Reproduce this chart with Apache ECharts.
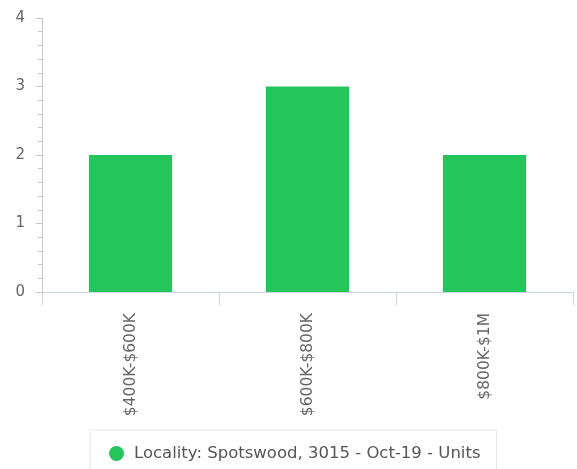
<!DOCTYPE html>
<html>
<head>
<meta charset="utf-8">
<script src="https://cdn.jsdelivr.net/npm/echarts@6/dist/echarts.min.js"></script>
<style>
html, body { margin: 0; padding: 0; background: #fff; }
#chart { width: 577px; height: 469px; }
</style>
</head>
<body>
<div id="chart"></div>
<script>
const categories = ['$400K-$600K', '$600K-$800K', '$800K-$1M']
const units = [2, 3, 2]
const seriesName = 'Locality: Spotswood, 3015 - Oct-19 - Units'

const myChart = echarts.init(document.getElementById('chart'))
const option = {
  animation: false,
  textStyle: { fontFamily: 'DejaVu Sans' },
  grid: { left: 42, right: 4, top: 18, bottom: 177 },
  legend: {
    data: [seriesName],
    top: 430,
    left: 90,
    icon: 'circle',
    itemWidth: 25,
    itemHeight: 15,
    itemGap: 10,
    padding: [15, 16, 13, 19],
    borderColor: '#e6e6e6',
    borderWidth: 1,
    textStyle: { fontSize: 16.5, color: '#555', fontFamily: 'DejaVu Sans' }
  },
  xAxis: {
    type: 'category',
    data: categories,
    axisLine: { lineStyle: { color: '#ccd6eb' } },
    axisTick: { show: true, length: 13, lineStyle: { color: '#ccd6eb' } },
    axisLabel: { rotate: 90, margin: 21, fontSize: 15.5, color: '#666' }
  },
  yAxis: {
    type: 'value',
    min: 0,
    max: 4,
    interval: 1,
    axisLine: { show: true, lineStyle: { color: '#c6c6c6' } },
    axisTick: { show: true, length: 6, lineStyle: { color: '#c6c6c6' } },
    minorTick: { show: true, splitNumber: 5, length: 4, lineStyle: { color: '#c6c6c6' } },
    splitLine: { show: false },
    axisLabel: { fontSize: 15, color: '#666', margin: 17 }
  },
  series: [
    {
      name: seriesName,
      type: 'bar',
      data: units,
      barWidth: '47%',
      itemStyle: { color: '#24c55a' }
    }
  ]
}
myChart.setOption(option)
</script>
</body>
</html>
